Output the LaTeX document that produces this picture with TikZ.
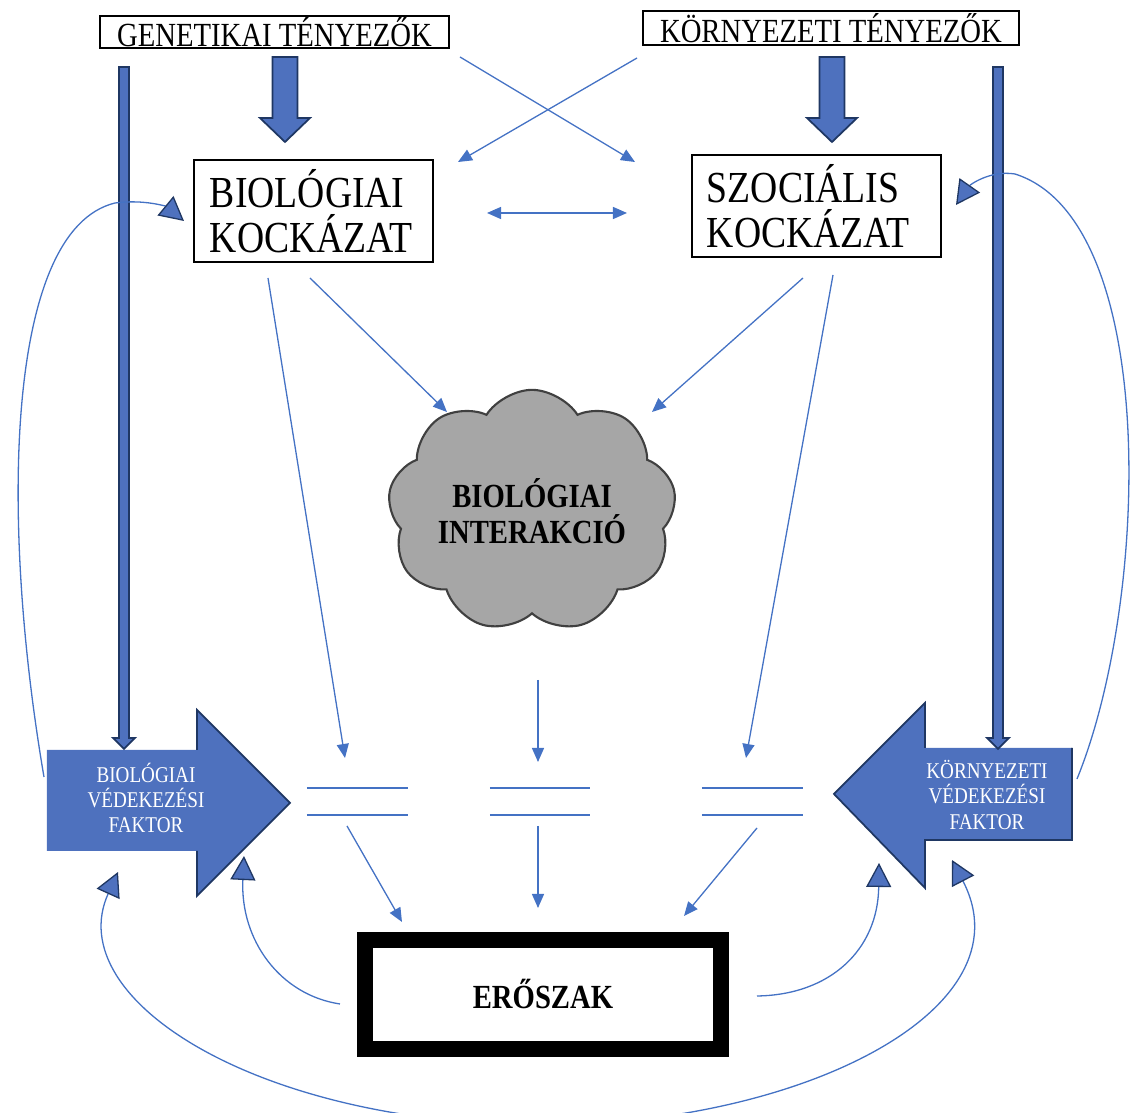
\documentclass[tikz,border=0pt]{standalone}
\usepackage{fontspec}
\setmainfont{Liberation Serif}[FakeStretch=0.85]
\usetikzlibrary{arrows.meta,shapes.symbols}
\definecolor{accent}{HTML}{4472C4}
\definecolor{blockblue}{HTML}{4E71BE}
\definecolor{navy}{HTML}{1F3763}
\definecolor{cloudgray}{HTML}{A6A6A6}
\begin{document}
\begin{tikzpicture}[x=0.01cm,y=-0.01cm,
  tbox/.style={draw,line width=0.6pt,inner sep=0pt,font=\fontsize{9.6}{10}\selectfont},
  riskbox/.style={draw,line width=0.6pt,inner xsep=0.16cm,inner ysep=0pt,text width=2.07cm,align=left,minimum height=1.02cm,font=\fontsize{12.6}{12.8}\selectfont},
  thinarr/.style={draw=accent,line width=0.37pt,-{Triangle[length=1.4mm,width=1.2mm]}},
  looparr/.style={draw=accent,line width=0.37pt,-{Triangle[length=2.4mm,width=2.5mm,color=navy,fill=blockblue]}},
  fat/.style={fill=blockblue,draw=navy,line width=0.5pt},
  eq/.style={draw=accent,line width=0.37pt},
  prottext/.style={text=white,align=center,font=\fontsize{6.4}{7.2}\selectfont}]
\useasboundingbox (0,0) rectangle (1141,1113);

\node[tbox,minimum width=3.49cm,minimum height=0.32cm] (1) at (274.5,32) {GENETIKAI TÉNYEZŐK};
\node[tbox,minimum width=3.76cm,minimum height=0.34cm] (2) at (831,28) {KÖRNYEZETI TÉNYEZŐK};
\node[riskbox] (3) at (313.5,211) {BIOLÓGIAI\\KOCKÁZAT};
\node[riskbox,text width=2.19cm,inner xsep=0.15cm] (4) at (816.5,206) {SZOCIÁLIS\\KOCKÁZAT};
\node[cloud,cloud puffs=9,cloud puff arc=115,aspect=1.3,inner sep=0pt,minimum width=2.75cm,minimum height=2.1cm,
  fill=cloudgray,draw=black!75,line width=0.6pt,align=center,
  font=\bfseries\fontsize{9.6}{10.2}\selectfont] (5) at (532,511) {BIOLÓGIAI\\INTERAKCIÓ};
\node[draw,line width=0.16cm,minimum width=3.56cm,minimum height=1.09cm,inner sep=0pt,
  font=\bfseries\fontsize{9.6}{10}\selectfont] (6) at (543,994.5) {ERŐSZAK};

\fill[blockblue] (47,750) -- (197,750) -- (197,710) -- (290,803) -- (197,896) -- (197,851) -- (47,851) -- cycle;
\draw[navy,line width=0.5pt] (197,750) -- (197,710) -- (290,803) -- (197,896) -- (197,851);
\node[prottext] (7) at (146,798) {BIOLÓGIAI\\VÉDEKEZÉSI\\FAKTOR};
\fill[blockblue] (1072,748) -- (925,748) -- (925,703) -- (834,794) -- (925,888) -- (925,840) -- (1072,840) -- cycle;
\draw[navy,line width=0.5pt] (925,748) -- (925,703) -- (834,794) -- (925,888) -- (925,840) -- (1072,840) -- (1072,748);
\node[prottext] (8) at (987,795) {KÖRNYEZETI\\VÉDEKEZÉSI\\FAKTOR};

\filldraw[fat] (272.5,57) -- (297.5,57) -- (297.5,118) -- (310,118) -- (285,142) -- (260,118) -- (272.5,118) -- cycle;
\filldraw[fat] (819.5,57) -- (844.5,57) -- (844.5,118) -- (857,118) -- (832,142) -- (807,118) -- (819.5,118) -- cycle;
\filldraw[fat] (119,67) -- (129,67) -- (129,738) -- (135,738) -- (124,749) -- (113,738) -- (119,738) -- cycle;
\filldraw[fat] (993,67) -- (1003,67) -- (1003,738) -- (1009,738) -- (998,749) -- (987,738) -- (993,738) -- cycle;

\coordinate (c1s) at (460,57);  \coordinate (c1e) at (635,162);
\coordinate (c2s) at (637,58);  \coordinate (c2e) at (458,162);
\coordinate (c3s) at (487,213); \coordinate (c3e) at (627,213);
\coordinate (c4s) at (310,278); \coordinate (c4e) at (447,412);
\coordinate (c5s) at (803,278); \coordinate (c5e) at (652,412);
\coordinate (c6s) at (268,278); \coordinate (c6e) at (345,758);
\coordinate (c7s) at (833,275); \coordinate (c7e) at (746,758);
\coordinate (c8s) at (538,680); \coordinate (c8e) at (538,762);
\coordinate (c9s) at (347,826); \coordinate (c9e) at (402,922);
\coordinate (c10s) at (538,826); \coordinate (c10e) at (538,908);
\coordinate (c11s) at (757,828); \coordinate (c11e) at (684,916);

\path[thinarr] (c1s) -- (c1e);
\path[thinarr] (c2s) -- (c2e);
\path[thinarr,{Triangle[length=1.4mm,width=1.2mm]}-{Triangle[length=1.4mm,width=1.2mm]}] (c3s) -- (c3e);
\path[thinarr] (c4s) -- (c4e);
\path[thinarr] (c5s) -- (c5e);
\path[thinarr] (c6s) -- (c6e);
\path[thinarr] (c7s) -- (c7e);
\path[thinarr] (c8s) -- (c8e);
\path[thinarr] (c9s) -- (c9e);
\path[thinarr] (c10s) -- (c10e);
\path[thinarr] (c11s) -- (c11e);

\path[eq] (307,788) -- (408,788) (307,815) -- (408,815);
\path[eq] (490,788) -- (590,788) (490,815) -- (590,815);
\path[eq] (702,788) -- (803,788) (702,815) -- (803,815);

\coordinate (l1s) at (44,777);   \coordinate (l1e) at (184,221);
\coordinate (l2s) at (1077,779); \coordinate (l2e) at (956,205);
\coordinate (l3s) at (340,1004); \coordinate (l3e) at (244,856);
\coordinate (l4s) at (757,996);  \coordinate (l4e) at (879,863);
\coordinate (l5s) at (118,872);  \coordinate (l5e) at (952,860);

\path[looparr] (l1s) .. controls (0,520) and (5,230) .. (115,203) .. controls (145,199) and (167,207) .. (l1e);
\path[looparr] (l2s) .. controls (1150,600) and (1160,220) .. (1015,174) .. controls (990,170) and (970,185) .. (l2e);
\path[looparr] (l3s) .. controls (280,995) and (240,940) .. (l3e);
\path[looparr] (l4s) .. controls (830,995) and (878,950) .. (l4e);
\path[looparr,{Triangle[length=2.4mm,width=2.5mm,color=navy,fill=blockblue]}-{Triangle[length=2.4mm,width=2.5mm,color=navy,fill=blockblue]}]
  (l5s) .. controls (60,1000) and (260,1125) .. (543,1125) .. controls (800,1125) and (1030,1010) .. (l5e);
\end{tikzpicture}
\end{document}
